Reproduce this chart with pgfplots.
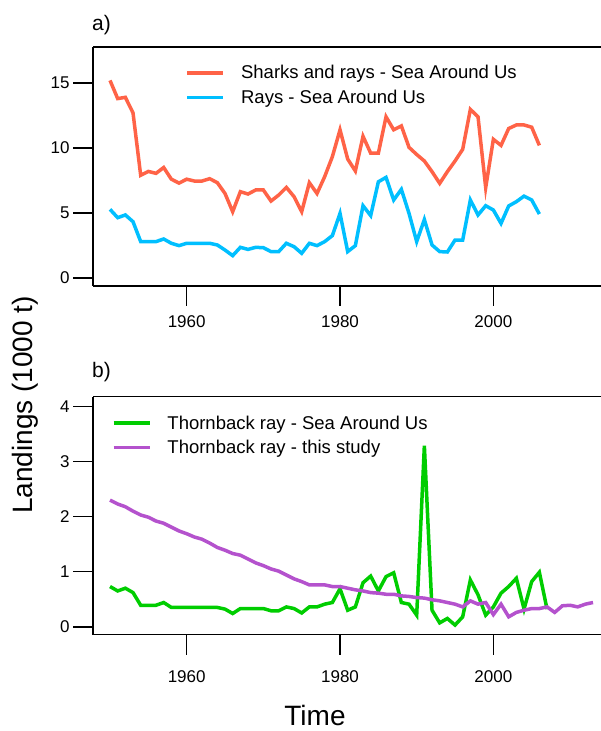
\documentclass[border=0pt]{standalone}
\usepackage{fontspec}
\setmainfont{Liberation Sans}
\usepackage{pgfplots}
\pgfplotsset{compat=1.18}
\definecolor{cshark}{HTML}{FF6347}
\definecolor{cray}{HTML}{00BFFF}
\definecolor{cgreen}{HTML}{00CD00}
\definecolor{cpurple}{HTML}{B452CD}

\pgfplotstableread{
year sharks rays
1950 15.2 5.28
1951 13.8 4.64
1952 13.9 4.85
1953 12.7 4.33
1954 7.9 2.8
1955 8.2 2.8
1956 8.05 2.8
1957 8.5 3.0
1958 7.6 2.67
1959 7.3 2.49
1960 7.6 2.67
1961 7.46 2.67
1962 7.46 2.67
1963 7.64 2.67
1964 7.33 2.54
1965 6.5 2.15
1966 5.1 1.72
1967 6.64 2.36
1968 6.46 2.2
1969 6.77 2.36
1970 6.77 2.33
1971 5.92 2.03
1972 6.38 2.03
1973 6.97 2.67
1974 6.26 2.41
1975 5.1 1.9
1976 7.33 2.67
1977 6.5 2.49
1978 7.8 2.8
1979 9.33 3.26
1980 11.4 4.97
1981 9.15 2.03
1982 8.23 2.49
1983 10.9 5.56
1984 9.6 4.8
1985 9.6 7.4
1986 12.4 7.74
1987 11.4 6.0
1988 11.7 6.82
1989 10.05 4.97
1990 9.5 2.8
1991 9.0 4.5
1992 8.18 2.54
1993 7.28 2.03
1994 8.18 2.0
1995 9.0 2.92
1996 9.9 2.92
1997 12.97 6.0
1998 12.4 4.85
1999 6.95 5.56
2000 10.67 5.23
2001 10.2 4.2
2002 11.5 5.54
2003 11.77 5.87
2004 11.77 6.3
2005 11.6 6.0
2006 10.2 4.92
}\topdata

\pgfplotstableread{
year sau
1950 0.73
1951 0.65
1952 0.70
1953 0.62
1954 0.39
1955 0.39
1956 0.39
1957 0.44
1958 0.35
1959 0.35
1960 0.35
1961 0.35
1962 0.35
1963 0.35
1964 0.35
1965 0.32
1966 0.24
1967 0.33
1968 0.33
1969 0.33
1970 0.33
1971 0.29
1972 0.29
1973 0.36
1974 0.33
1975 0.25
1976 0.36
1977 0.36
1978 0.41
1979 0.44
1980 0.69
1981 0.30
1982 0.36
1983 0.80
1984 0.92
1985 0.65
1986 0.91
1987 0.98
1988 0.44
1989 0.41
1990 0.21
1991 3.29
1992 0.30
1993 0.07
1994 0.15
1995 0.03
1996 0.18
1997 0.85
1998 0.58
1999 0.21
2000 0.36
2001 0.61
2002 0.73
2003 0.88
2004 0.32
2005 0.82
2006 0.99
2007 0.32
}\greendata

\pgfplotstableread{
year study
1950 2.30
1951 2.23
1952 2.18
1953 2.10
1954 2.03
1955 1.99
1956 1.92
1957 1.88
1958 1.81
1959 1.74
1960 1.69
1961 1.63
1962 1.59
1963 1.52
1964 1.44
1965 1.39
1966 1.33
1967 1.30
1968 1.23
1969 1.16
1970 1.11
1971 1.05
1972 1.01
1973 0.94
1974 0.87
1975 0.82
1976 0.76
1977 0.76
1978 0.76
1979 0.73
1980 0.73
1981 0.70
1982 0.67
1983 0.65
1984 0.62
1985 0.61
1986 0.59
1987 0.59
1988 0.56
1989 0.55
1990 0.53
1991 0.52
1992 0.49
1993 0.47
1994 0.44
1995 0.41
1996 0.36
1997 0.47
1998 0.41
1999 0.44
2000 0.22
2001 0.41
2002 0.18
2003 0.26
2004 0.30
2005 0.33
2006 0.33
2007 0.36
2008 0.26
2009 0.38
2010 0.39
2011 0.36
2012 0.41
2013 0.44
}\purpledata

\pgfplotsset{
  myaxis/.style={
    scale only axis, width=508pt,
    xmin=1947.78, xmax=2014.04,
    axis x line=box, axis y line=left,
    axis line style={-, line width=1.6pt, black},
    tick pos=left,
    xtick={1960,1980,2000},
    tick align=outside, major tick length=20pt,
    tick style={line width=1.6pt, black},
    /pgf/number format/assume math mode=true,
    /pgf/number format/1000 sep={},
    ticklabel style={font=\fontsize{17}{17}\selectfont},
    legend cell align=left,
    legend image code/.code={\draw[##1] (0pt,0pt) -- (36pt,0pt);},
    legend style={draw=none, fill=none, font=\fontsize{18.5}{18.5}\selectfont,
      anchor=north west, row sep=5.5pt,
      /tikz/every odd column/.append style={column sep=14pt}},
  }
}

\begin{document}
\begin{tikzpicture}[x=1pt,y=1pt]
\useasboundingbox (0,0) rectangle (601,731);
\begin{axis}[myaxis, at={(93pt,445pt)}, anchor=south west, height=239pt,
  ymin=-0.615, ymax=17.77, ytick={0,5,10,15},
  xticklabel style={yshift=-6pt},
  legend style={at={(0.176,0.94)}}]
\addplot[cshark, line width=3.5pt] table[x=year, y=sharks] {\topdata};
\addlegendentry{Sharks and rays - Sea Around Us}
\addplot[cray, line width=3.5pt] table[x=year, y=rays] {\topdata};
\addlegendentry{Rays - Sea Around Us}
\end{axis}
\begin{axis}[myaxis, at={(93pt,96.3pt)}, anchor=south west, height=238pt,
  ymin=-0.145, ymax=4.18, ytick={0,1,2,3,4},
  xticklabel style={yshift=-12pt},
  legend style={at={(0.031,0.938)}}]
\addplot[cgreen, line width=3.5pt] table[x=year, y=sau] {\greendata};
\addlegendentry{Thornback ray  - Sea Around Us}
\addplot[cpurple, line width=3.5pt] table[x=year, y=study] {\purpledata};
\addlegendentry{Thornback ray  - this study}
\end{axis}
\node[rotate=90, font=\fontsize{28}{28}\selectfont] at (25,326) {Landings (1000 t)};
\node[font=\fontsize{28}{28}\selectfont, inner sep=0pt] at (315,16) {Time};
\node[anchor=west, font=\fontsize{21}{21}\selectfont, inner sep=0pt] at (92,706) {a)};
\node[anchor=west, font=\fontsize{21}{21}\selectfont, inner sep=0pt] at (92,359) {b)};
\end{tikzpicture}
\end{document}
